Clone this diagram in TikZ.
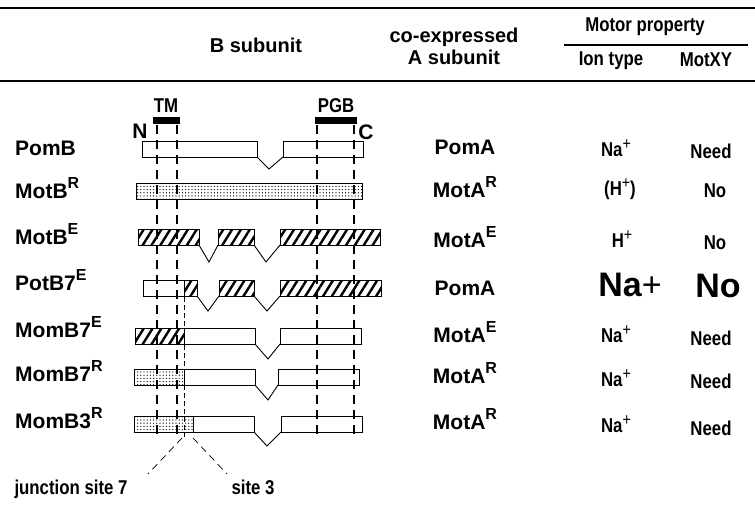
\documentclass[tikz,border=0pt]{standalone}
\usepackage{fontspec}
\setmainfont{Liberation Sans}
\newfontfamily\narrowfont[FakeStretch=0.84]{Liberation Sans}
\usetikzlibrary{patterns.meta}
\newcommand{\supl}[1]{\raisebox{0.45em}{\fontsize{16}{16}\selectfont #1}}
\newcommand{\plusup}{\raisebox{0.35em}{\fontsize{17}{17}\selectfont\mdseries +}}

\begin{document}
\begin{tikzpicture}[
        x=1pt, y=-1pt,
        txt/.style={
            font=\fontsize{21}{23}\selectfont\bfseries,
            inner sep=0pt
        },
        head/.style={
            font=\fontsize{20}{22}\selectfont\bfseries,
            inner sep=0pt
        },
        lbl/.style={
            txt,
            anchor=base west
        },
        col/.style={
            txt,
            anchor=base
        },
        ncol/.style={
            font=\fontsize{20}{22}\selectfont\narrowfont\bfseries,
            inner sep=0pt,
            anchor=base
        },
        big/.style={
            font=\fontsize{34}{36}\selectfont\bfseries,
            inner sep=0pt,
            anchor=base
        },
        rule/.style={line width=1.4pt},
        plain/.style={draw, fill=white, line width=0.9pt},
        hatch/.style={draw, line width=0.9pt,
            pattern={Lines[angle=58, distance=7.5pt, line width=2.4pt]}},
        stipple/.style={draw, line width=0.9pt, fill=white,
            postaction={pattern={Dots[radius=0.65pt, distance=3.2pt]}}},
        notch/.style={line width=0.9pt},
        guide/.style={line width=2.1pt, dash pattern=on 9pt off 6pt},
        thin/.style={line width=0.7pt, dash pattern=on 5pt off 3pt},
        site/.style={line width=0.7pt, dash pattern=on 7pt off 5pt}
    ]

        \useasboundingbox (0,0) rectangle (755,516);

        % table head
        \draw[rule] (0,8) -- (755,8);
        \draw[rule] (0,81) -- (755,81);
        \draw[line width=1.1pt] (564,45) -- (748,45);
        \node[head] (bsub) at (256,45) {B subunit};
        \node[head, align=center] (asub) at (454,46) {co-expressed\\A subunit};
        \node[ncol] (motor) at (645,32) {Motor property};
        \node[ncol] (ion) at (611,66) {Ion type};
        \node[ncol] (motxy) at (706,67) {MotXY};

        % domains
        \fill (153,117) rectangle (180,124);
        \fill (315,117) rectangle (357,124);
        \node[ncol] (tm) at (166,113) {TM};
        \node[ncol] (pgb) at (336,113) {PGB};
        \node[txt, anchor=base] (nterm) at (140,139) {N};
        \node[txt, anchor=base] (cterm) at (366,140) {C};

        % PomB
        \draw[plain] (142,141) rectangle (257,157);
        \draw[plain] (283,141) rectangle (363,157);
        \draw[notch] (257,157) -- (269,169) -- (283,157);
        % MotB R
        \draw[stipple] (136,183) rectangle (362,199);
        % MotB E
        \draw[hatch] (138,229) rectangle (199,245);
        \draw[hatch] (218,229) rectangle (254,245);
        \draw[hatch] (280,229) rectangle (380,245);
        \draw[notch] (199,245) -- (209,262) -- (218,245);
        \draw[notch] (254,245) -- (266,262) -- (280,245);
        % PotB7 E
        \draw[plain] (143,280) rectangle (184,296);
        \draw[hatch] (184,280) rectangle (197,296);
        \draw[hatch] (219,280) rectangle (254,296);
        \draw[hatch] (280,280) rectangle (381,296);
        \draw[notch] (197,296) -- (208,311) -- (219,296);
        \draw[notch] (254,296) -- (267,311) -- (280,296);
        % MomB7 E
        \draw[hatch] (135,328) rectangle (184,344);
        \draw[plain] (184,328) rectangle (255,344);
        \draw[plain] (280,328) rectangle (361,344);
        \draw[notch] (255,344) -- (268,359) -- (280,344);
        % MomB7 R
        \draw[stipple] (134,369) rectangle (184,385);
        \draw[plain] (184,369) rectangle (255,385);
        \draw[plain] (278,369) rectangle (359,385);
        \draw[notch] (255,385) -- (268,400) -- (278,385);
        % MomB3 R
        \draw[stipple] (134,416) rectangle (193,432);
        \draw[plain] (193,416) rectangle (254,432);
        \draw[plain] (281,416) rectangle (362,432);
        \draw[notch] (254,432) -- (267,446) -- (281,432);

        % guide lines
        \foreach \gx in {157,177,317,354}
            \draw[guide] (\gx,125) -- (\gx,437);
        \draw[thin] (184,297) -- (184,437);

        % junctions
        \coordinate (j7) at (182,438);
        \coordinate (j3) at (193,438);
        \node[ncol] (site7) at (71,494) {junction site 7};
        \node[ncol] (site3) at (253,494) {site 3};
        \draw[site] (j7) -- (148,474);
        \draw[site] (j3) -- (227,474);

        % rows
        \node[lbl] (pomb) at (15,156) {PomB};
        \node[lbl] (motbr) at (15,198) {MotB\supl{R}};
        \node[lbl] (motbe) at (15,244) {MotB\supl{E}};
        \node[lbl] (potb) at (15,290) {PotB7\supl{E}};
        \node[lbl] (mombe) at (15,337) {MomB7\supl{E}};
        \node[lbl] (mombr) at (15,381) {MomB7\supl{R}};
        \node[lbl] (momb3) at (15,428) {MomB3\supl{R}};

        \node[col] (a1) at (465,155) {PomA};
        \node[col] (a2) at (465,197) {MotA\supl{R}};
        \node[col] (a3) at (465,247) {MotA\supl{E}};
        \node[col] (a4) at (465,295) {PomA};
        \node[col] (a5) at (465,342) {MotA\supl{E}};
        \node[col] (a6) at (465,383) {MotA\supl{R}};
        \node[col] (a7) at (465,429) {MotA\supl{R}};

        \node[ncol] (i1) at (616,157) {Na\plusup};
        \node[ncol] (i2) at (620,195) {(H\plusup)};
        \node[ncol] (i3) at (622,247) {H\plusup};
        \node[big] (i4) at (630,296) {Na{\mdseries +}};
        \node[ncol] (i5) at (616,342) {Na\plusup};
        \node[ncol] (i6) at (616,386) {Na\plusup};
        \node[ncol] (i7) at (616,432) {Na\plusup};

        \node[ncol] (m1) at (711,158) {Need};
        \node[ncol] (m2) at (715,197) {No};
        \node[ncol] (m3) at (715,249) {No};
        \node[big] (m4) at (718,297) {No};
        \node[ncol] (m5) at (711,345) {Need};
        \node[ncol] (m6) at (711,388) {Need};
        \node[ncol] (m7) at (711,435) {Need};

    \end{tikzpicture}
\end{document}
